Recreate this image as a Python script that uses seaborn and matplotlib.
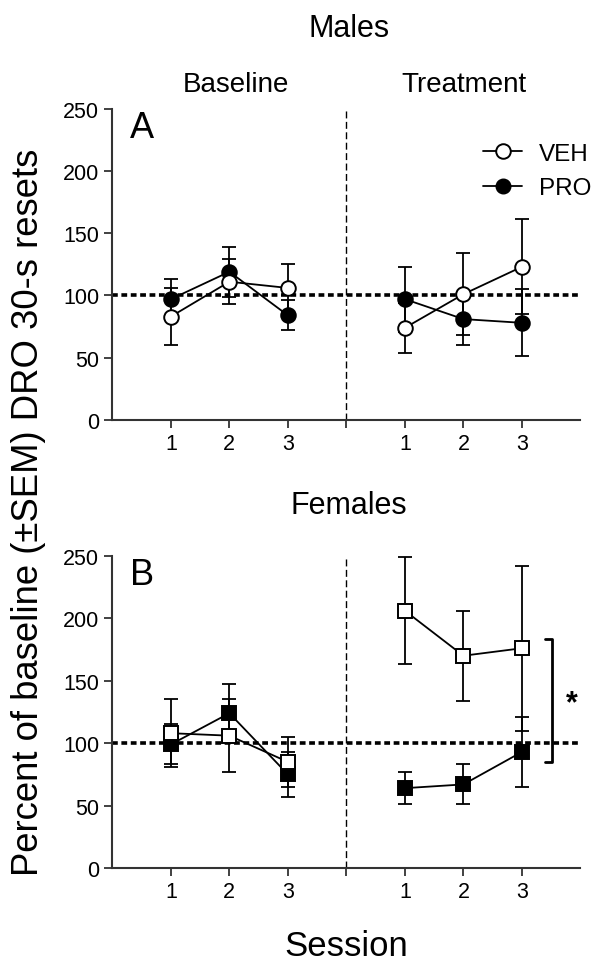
import matplotlib
matplotlib.use("Agg")
import matplotlib.pyplot as plt
import seaborn as sns
import pandas as pd
from matplotlib.lines import Line2D

sns.set_style("ticks")
plt.rcParams["font.family"] = ["Liberation Sans", "DejaVu Sans"]
plt.rcParams["text.color"] = "black"
plt.rcParams["xtick.color"] = "black"
plt.rcParams["ytick.color"] = "black"

# session positions on the shared x axis (baseline 1-3, treatment 1-3)
sessions = [1, 2, 3, 1, 2, 3]
phases = ["Baseline"] * 3 + ["Treatment"] * 3
positions = [1, 2, 3, 5, 6, 7]

# Males (panel A)
male_veh_mean = [83, 111, 106, 74, 101, 123]
male_veh_sem = [23, 18, 19, 20, 33, 38]
male_pro_mean = [97, 119, 84, 97, 81, 78]
male_pro_sem = [16, 20, 12, 26, 21, 27]

# Females (panel B)
female_veh_mean = [108, 106, 85, 206, 170, 176]
female_veh_sem = [27, 29, 20, 43, 36, 66]
female_pro_mean = [99, 124, 75, 64, 67, 93]
female_pro_sem = [16, 23, 18, 13, 16, 28]


def make_df(veh_m, veh_s, pro_m, pro_s):
    rows = []
    for grp, m, s in [("PRO", pro_m, pro_s), ("VEH", veh_m, veh_s)]:
        for i in range(len(positions)):
            rows.append({"group": grp, "phase": phases[i], "session": sessions[i],
                         "pos": positions[i], "mean": m[i], "sem": s[i]})
    return pd.DataFrame(rows)


df_m = make_df(male_veh_mean, male_veh_sem, male_pro_mean, male_pro_sem)
df_f = make_df(female_veh_mean, female_veh_sem, female_pro_mean, female_pro_sem)

fig = plt.figure(figsize=(6.04, 9.70), dpi=100)
ax_a = fig.add_axes([0.186, 0.566, 0.775, 0.321])
ax_b = fig.add_axes([0.186, 0.104, 0.775, 0.322])

face = {"VEH": "white", "PRO": "black"}


def draw_panel(ax, df, marker, letter):
    for grp in ["PRO", "VEH"]:
        for ph in ["Baseline", "Treatment"]:
            d = df[(df.group == grp) & (df.phase == ph)]
            ax.errorbar(d["pos"], d["mean"], yerr=d["sem"], fmt="none", ecolor="black",
                        elinewidth=1.3, capsize=5, capthick=1.3, zorder=2)
            sns.lineplot(data=d, x="pos", y="mean", ax=ax, color="black", linewidth=1.3,
                         marker=marker, markersize=10.5,
                         markerfacecolor=face[grp], markeredgecolor="black",
                         markeredgewidth=1.4, zorder=3)
    ax.axhline(100, color="black", linewidth=2.6, dashes=(1.6, 1.0), zorder=1)
    ax.axvline(4, color="black", linewidth=1.0, dashes=(5, 2.5), zorder=1)
    ax.set_xlim(0, 8)
    ax.set_ylim(0, 250)
    ax.set_yticks([0, 50, 100, 150, 200, 250])
    ax.set_xticks([1, 2, 3, 4, 5, 6, 7])
    ax.set_xticklabels(["1", "2", "3", "", "1", "2", "3"])
    ax.tick_params(labelsize=15.5, length=6, width=1.3, color="#333333")
    ax.set_xlabel("")
    ax.set_ylabel("")
    for sp in ["top", "right"]:
        ax.spines[sp].set_visible(False)
    for sp in ["left", "bottom"]:
        ax.spines[sp].set_linewidth(1.5)
        ax.spines[sp].set_color("#333333")
    ax.text(0.3, 249, letter, fontsize=26, va="top", ha="left")


draw_panel(ax_a, df_m, "o", "A")
draw_panel(ax_b, df_f, "s", "B")

# legend for panel A
handles = [Line2D([], [], color="black", linewidth=1.3, marker="o", markersize=10.5,
                  markerfacecolor="white", markeredgecolor="black", markeredgewidth=1.4),
           Line2D([], [], color="black", linewidth=1.3, marker="o", markersize=10.5,
                  markerfacecolor="black", markeredgecolor="black")]
ax_a.legend(handles, ["VEH", "PRO"], loc="upper right", bbox_to_anchor=(1.07, 0.96),
            frameon=False, fontsize=17.5, handlelength=1.6, handletextpad=0.7,
            labelspacing=0.5)

# significance bracket in panel B
ax_b.plot([7.39, 7.51, 7.51, 7.39], [183, 183, 85, 85], color="black", linewidth=2.0)
ax_b.text(7.85, 132, "*", fontsize=22, fontweight="bold", ha="center", va="center")

# titles
fig.text(0.578, 0.970, "Males", fontsize=22, ha="center", va="center")
fig.text(0.391, 0.912, "Baseline", fontsize=20, ha="center", va="center")
fig.text(0.768, 0.912, "Treatment", fontsize=20, ha="center", va="center")
fig.text(0.578, 0.478, "Females", fontsize=22, ha="center", va="center")
fig.text(0.573, 0.024, "Session", fontsize=25, ha="center", va="center")
fig.text(0.048, 0.472, "Percent of baseline (\u00b1SEM) DRO 30-s resets", fontsize=26.3,
         rotation=90, ha="center", va="center")

fig.savefig("out.png", dpi=100)
